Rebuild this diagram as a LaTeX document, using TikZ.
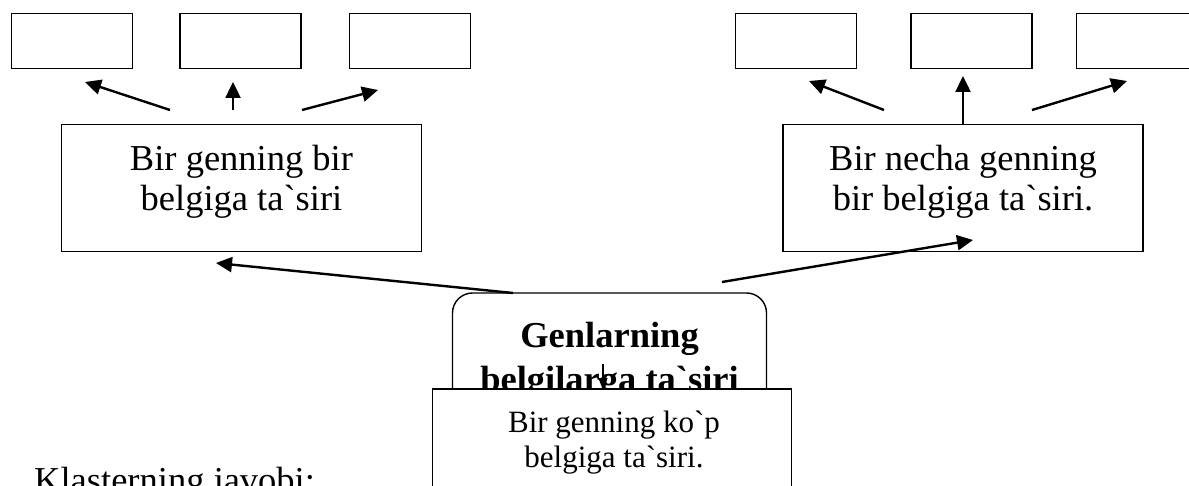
\documentclass[tikz,border=0pt]{standalone}
\usepackage{fontspec}
\setmainfont{Liberation Serif}
\usepackage{tikz}
\usetikzlibrary{arrows.meta,shapes}
\tikzstyle{small box}=[draw,line width=1.6pt,minimum width=121pt,minimum height=55pt,inner sep=0pt]
\tikzstyle{big box}=[draw,line width=1.6pt,minimum width=360pt,minimum height=127pt,inner sep=0pt]
\tikzstyle{big text}=[align=center,inner sep=0pt,font=\fontsize{36.5}{40}\selectfont]
\tikzstyle{edge} = [draw,line width=2.4pt,-{Triangle[length=16pt,width=15pt]}]
\tikzstyle{thin edge} = [draw,line width=1.2pt,-{Triangle[length=12pt,width=9pt]}]
\newcommand{\gr}{\textasciigrave}

\begin{document}
\begin{tikzpicture}[x=1pt,y=-1pt]
        \useasboundingbox (0,0) rectangle (1189,486);
        \clip (0,0) rectangle (1189,486);
        % left group
        \node[small box] (l1) at (72,41) {};
        \node[small box] (l2) at (240.5,41) {};
        \node[small box] (l3) at (410,41) {};
        \node[big box] (lbox) at (241.5,188) {};
        \node[big text] (ltxt) at (241.5,182) {Bir genning bir\\belgiga ta\gr siri};
        % right group
        \node[small box] (r1) at (796,41) {};
        \node[small box] (r2) at (971.5,41) {};
        \node[small box] (r3) at (1137,41) {};
        \node[big box] (rbox) at (963,188) {};
        \node[big text] (rtxt) at (963,182) {Bir necha genning\\bir belgiga ta\gr siri.};
        % centre
        \node[draw,line width=1.4pt,rounded corners=20pt,minimum width=314pt,minimum height=140pt] (gbox) at (609.5,363) {};
        \node[big text,font=\fontsize{36.5}{44}\selectfont\bfseries] (gtxt) at (609.5,361) {Genlarning\\belgilarga ta\gr siri};
        \node[draw,fill=white,line width=1.6pt,minimum width=359pt,minimum height=200pt] (kbox) at (612,489) {};
        \node[big text,font=\fontsize{31}{35}\selectfont] (ktxt) at (614,442.3) {Bir genning ko\gr p\\belgiga ta\gr siri.};
        \node[anchor=base west,inner sep=0pt,font=\fontsize{36.5}{40}\selectfont] (klaster) at (34,492) {Klasterning javobi:};
        % arrow ends
        \coordinate (a1) at (170,110);  \coordinate (b1) at (85,82);
        \coordinate (a2) at (233,110);  \coordinate (b2) at (233,82);
        \coordinate (a3) at (302,110);  \coordinate (b3) at (378,90);
        \coordinate (a4) at (884,110);  \coordinate (b4) at (809,81);
        \coordinate (b5) at (963,76);
        \coordinate (a6) at (1032,110); \coordinate (b6) at (1127,81);
        \coordinate (a7) at (513,293);  \coordinate (b7) at (216,263);
        \coordinate (a8) at (722,282);  \coordinate (b8) at (973,240);
        \coordinate (a9) at (603,364);  \coordinate (b9) at (603,390);
        \draw[edge] (a1) to (b1);
        \draw[edge] (a2) to (b2);
        \draw[edge] (a3) to (b3);
        \draw[edge] (a4) to (b4);
        \draw[edge] (rbox.north) to (b5);
        \draw[edge] (a6) to (b6);
        \draw[edge] (a7) to (b7);
        \draw[edge] (a8) to (b8);
        \draw[thin edge] (a9) to (b9);
\end{tikzpicture}
\end{document}
